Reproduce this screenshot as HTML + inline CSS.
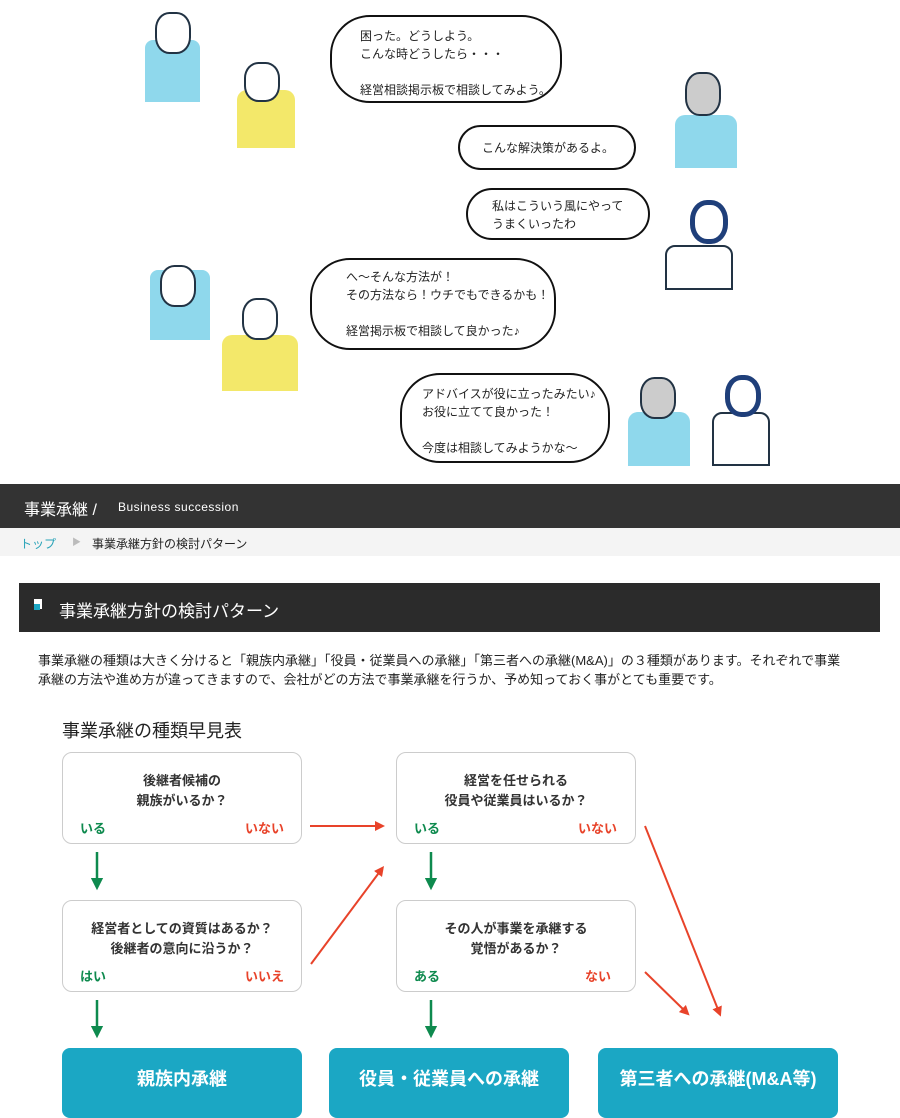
<!DOCTYPE html>
<html><head><meta charset="utf-8"><style>
*{margin:0;padding:0;box-sizing:border-box}
body{width:900px;height:1100px;overflow:hidden;background:#fff;font-family:"Liberation Sans","Noto Sans CJK JP",sans-serif;position:relative;color:#222}
.a{position:absolute}
.bub{position:absolute;border:2px solid #111;border-radius:40px;font-size:12px;line-height:18px;color:#222}
.box{position:absolute;border:1px solid #ccc;border-radius:10px;background:#fff;font-size:13px;font-weight:bold;text-align:center;line-height:20px;color:#333}
.g{position:absolute;color:#0e8a4e;font-weight:bold;font-size:13px}
.r{position:absolute;color:#e8432a;font-weight:bold;font-size:13px}
.res{position:absolute;top:1048px;height:70px;width:240px;background:#1ba7c4;border-radius:8px;color:#fff;font-weight:bold;font-size:18px;text-align:center;line-height:62px}
</style></head><body>
<div class="a" style="left:145px;top:40px;width:55px;height:62px;background:#8fd8ec;border-radius:8px 8px 0 0"></div>
<div class="a" style="left:155px;top:12px;width:36px;height:42px;background:#fff;border:2px solid #234;border-radius:40%"></div>
<div class="a" style="left:237px;top:90px;width:58px;height:58px;background:#f3e86a;border-radius:10px 10px 0 0"></div>
<div class="a" style="left:244px;top:62px;width:36px;height:40px;background:#fff;border:2px solid #234;border-radius:40%"></div>
<div class="a" style="left:675px;top:115px;width:62px;height:53px;background:#8fd8ec;border-radius:10px 10px 0 0"></div>
<div class="a" style="left:685px;top:72px;width:36px;height:44px;background:#ccc;border:2px solid #234;border-radius:40%"></div>
<div class="a" style="left:665px;top:245px;width:68px;height:45px;border:2px solid #234;border-radius:10px 10px 0 0"></div>
<div class="a" style="left:690px;top:200px;width:38px;height:44px;background:#fff;border:5px solid #1f3f7a;border-radius:45%"></div>
<div class="a" style="left:150px;top:270px;width:60px;height:70px;background:#8fd8ec;border-radius:8px 8px 0 0"></div>
<div class="a" style="left:160px;top:265px;width:36px;height:42px;background:#fff;border:2px solid #234;border-radius:40%"></div>
<div class="a" style="left:222px;top:335px;width:76px;height:56px;background:#f3e86a;border-radius:10px 10px 0 0"></div>
<div class="a" style="left:242px;top:298px;width:36px;height:42px;background:#fff;border:2px solid #234;border-radius:40%"></div>
<div class="a" style="left:628px;top:412px;width:62px;height:54px;background:#8fd8ec;border-radius:10px 10px 0 0"></div>
<div class="a" style="left:640px;top:377px;width:36px;height:42px;background:#ccc;border:2px solid #234;border-radius:40%"></div>
<div class="a" style="left:712px;top:412px;width:58px;height:54px;border:2px solid #234;border-radius:10px 10px 0 0"></div>
<div class="a" style="left:725px;top:375px;width:36px;height:42px;background:#fff;border:5px solid #1f3f7a;border-radius:45%"></div>
<div class="bub" style="left:330px;top:15px;width:232px;height:88px;padding:10px 0 0 28px">困った。どうしよう。<br>こんな時どうしたら・・・<br><br>経営相談掲示板で相談してみよう。</div>
<div class="bub" style="left:458px;top:125px;width:178px;height:45px;padding:12px 0 0 22px">こんな解決策があるよ。</div>
<div class="bub" style="left:466px;top:188px;width:184px;height:52px;padding:7px 0 0 24px">私はこういう風にやって<br>うまくいったわ</div>
<div class="bub" style="left:310px;top:258px;width:246px;height:92px;padding:8px 0 0 34px">へ〜そんな方法が！<br>その方法なら！ウチでもできるかも！<br><br>経営掲示板で相談して良かった♪</div>
<div class="bub" style="left:400px;top:373px;width:210px;height:90px;padding:10px 0 0 20px">アドバイスが役に立ったみたい♪<br>お役に立てて良かった！<br><br>今度は相談してみようかな〜</div>
<div class="a" style="left:0;top:484px;width:900px;height:44px;background:#333;color:#fff"><span class="a" style="left:24px;top:12px;font-size:16px">事業承継 /</span><span class="a" style="left:118px;top:16px;font-size:12px;letter-spacing:.5px">Business succession</span></div>
<div class="a" style="left:0;top:528px;width:900px;height:28px;background:#f4f4f4;font-size:12px"><span class="a" style="left:20px;top:7px;color:#29a3b8">トップ</span><span class="a" style="left:72px;top:7px;color:#bbb;font-size:9px">▶</span><span class="a" style="left:92px;top:7px">事業承継方針の検討パターン</span></div>
<div class="a" style="left:19px;top:583px;width:861px;height:49px;background:#2b2b2b;color:#fff;font-size:17px"><span class="a" style="left:15px;top:16px;width:8px;height:10px;background:#fff"></span><span class="a" style="left:15px;top:21px;width:6px;height:6px;background:#1ba7c4"></span><span class="a" style="left:40px;top:14px">事業承継方針の検討パターン</span></div>
<div class="a" style="left:38px;top:651px;font-size:13px;line-height:19px;width:850px;white-space:nowrap">事業承継の種類は大きく分けると「親族内承継」「役員・従業員への承継」「第三者への承継(M&amp;A)」の３種類があります。それぞれで事業<br>承継の方法や進め方が違ってきますので、会社がどの方法で事業承継を行うか、予め知っておく事がとても重要です。</div>
<div class="a" style="left:62px;top:717px;font-size:18px">事業承継の種類早見表</div>
<div class="box" style="left:62px;top:752px;width:240px;height:92px;padding-top:18px">後継者候補の<br>親族がいるか？</div>
<div class="g" style="left:80px;top:818px">いる</div><div class="r" style="left:245px;top:818px">いない</div>
<div class="box" style="left:62px;top:900px;width:240px;height:92px;padding-top:18px">経営者としての資質はあるか？<br>後継者の意向に沿うか？</div>
<div class="g" style="left:80px;top:966px">はい</div><div class="r" style="left:245px;top:966px">いいえ</div>
<div class="box" style="left:396px;top:752px;width:240px;height:92px;padding-top:18px">経営を任せられる<br>役員や従業員はいるか？</div>
<div class="g" style="left:414px;top:818px">いる</div><div class="r" style="left:578px;top:818px">いない</div>
<div class="box" style="left:396px;top:900px;width:240px;height:92px;padding-top:18px">その人が事業を承継する<br>覚悟があるか？</div>
<div class="g" style="left:414px;top:966px">ある</div><div class="r" style="left:585px;top:966px">ない</div>
<div class="res" style="left:62px">親族内承継</div>
<div class="res" style="left:329px">役員・従業員への承継</div>
<div class="res" style="left:598px">第三者への承継(M&amp;A等)</div>
<svg class="a" style="left:0;top:0" width="900" height="1100">
<defs><marker id="gm" markerWidth="5" markerHeight="5" refX="2.5" refY="2.5" orient="auto" markerUnits="strokeWidth"><path d="M0,0L5,2.5L0,5z" fill="#0e8a4e"/></marker>
<marker id="rm" markerWidth="5" markerHeight="5" refX="2.5" refY="2.5" orient="auto" markerUnits="strokeWidth"><path d="M0,0L5,2.5L0,5z" fill="#e8432a"/></marker></defs>
<g stroke="#0e8a4e" stroke-width="2.5" marker-end="url(#gm)">
<line x1="97" y1="852" x2="97" y2="884"/><line x1="97" y1="1000" x2="97" y2="1032"/>
<line x1="431" y1="852" x2="431" y2="884"/><line x1="431" y1="1000" x2="431" y2="1032"/></g>
<g stroke="#e8432a" stroke-width="2" marker-end="url(#rm)">
<line x1="310" y1="826" x2="380" y2="826"/><line x1="311" y1="964" x2="381" y2="870"/>
<line x1="645" y1="826" x2="719" y2="1012"/><line x1="645" y1="972" x2="686" y2="1012"/></g>
</svg>
</body></html>
